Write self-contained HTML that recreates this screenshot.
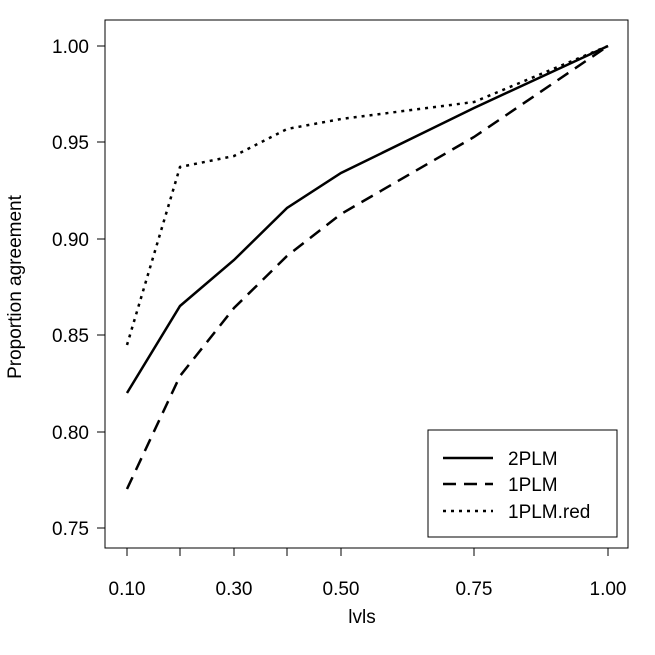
<!DOCTYPE html>
<html><head><meta charset="utf-8"><style>body{margin:0;background:#fff}svg{display:block}text{font-family:"Liberation Sans",Arial,sans-serif;fill:#000}</style></head>
<body>
<svg width="655" height="655" viewBox="0 0 655 655" xmlns="http://www.w3.org/2000/svg">
<rect x="105" y="20" width="523" height="528" fill="none" stroke="#000" stroke-width="1"/>
<g stroke="#000" stroke-width="1">
<line x1="127" y1="548" x2="608" y2="548"/>
<line x1="127" y1="548" x2="127" y2="556"/><line x1="180" y1="548" x2="180" y2="556"/><line x1="234" y1="548" x2="234" y2="556"/><line x1="287" y1="548" x2="287" y2="556"/><line x1="341" y1="548" x2="341" y2="556"/><line x1="474" y1="548" x2="474" y2="556"/><line x1="608" y1="548" x2="608" y2="556"/>
<line x1="105" y1="46" x2="105" y2="528"/>
<line x1="97" y1="46" x2="105" y2="46"/><line x1="97" y1="142" x2="105" y2="142"/><line x1="97" y1="239" x2="105" y2="239"/><line x1="97" y1="335" x2="105" y2="335"/><line x1="97" y1="432" x2="105" y2="432"/><line x1="97" y1="528" x2="105" y2="528"/>
</g>
<g font-size="19" text-anchor="middle">
<text x="127" y="595">0.10</text><text x="234" y="595">0.30</text><text x="341" y="595">0.50</text><text x="474" y="595">0.75</text><text x="608" y="595">1.00</text>
<text x="362" y="623">lvls</text>
</g>
<g font-size="19" text-anchor="end">
<text x="89" y="53">1.00</text><text x="89" y="149">0.95</text><text x="89" y="246">0.90</text><text x="89" y="342">0.85</text><text x="89" y="439">0.80</text><text x="89" y="535">0.75</text>
</g>
<text font-size="19" text-anchor="middle" transform="translate(21,287) rotate(-90)">Proportion agreement</text>
<g fill="none" stroke="#000" stroke-width="2.5">
<polyline points="127,393 180,306 234,260 287,208 341,173 474,108 608,46"/>
<polyline stroke-dasharray="13,8" points="127,489 180,376 234,308 287,256 341,214 474,137 608,46"/>
<polyline stroke-dasharray="3,5" points="127,345 180,167 234,156 287,129 341,119 474,102 608,46"/>
</g>
<rect x="428" y="430" width="189" height="107" fill="#fff" stroke="#000"/>
<g fill="none" stroke="#000" stroke-width="2.5">
<line x1="443" y1="458" x2="493" y2="458"/>
<line x1="443" y1="484" x2="493" y2="484" stroke-dasharray="13,8"/>
<line x1="443" y1="511" x2="493" y2="511" stroke-dasharray="3,5"/>
</g>
<g font-size="19"><text x="508" y="465">2PLM</text><text x="508" y="491">1PLM</text><text x="508" y="518">1PLM.red</text></g>
</svg>
</body></html>
